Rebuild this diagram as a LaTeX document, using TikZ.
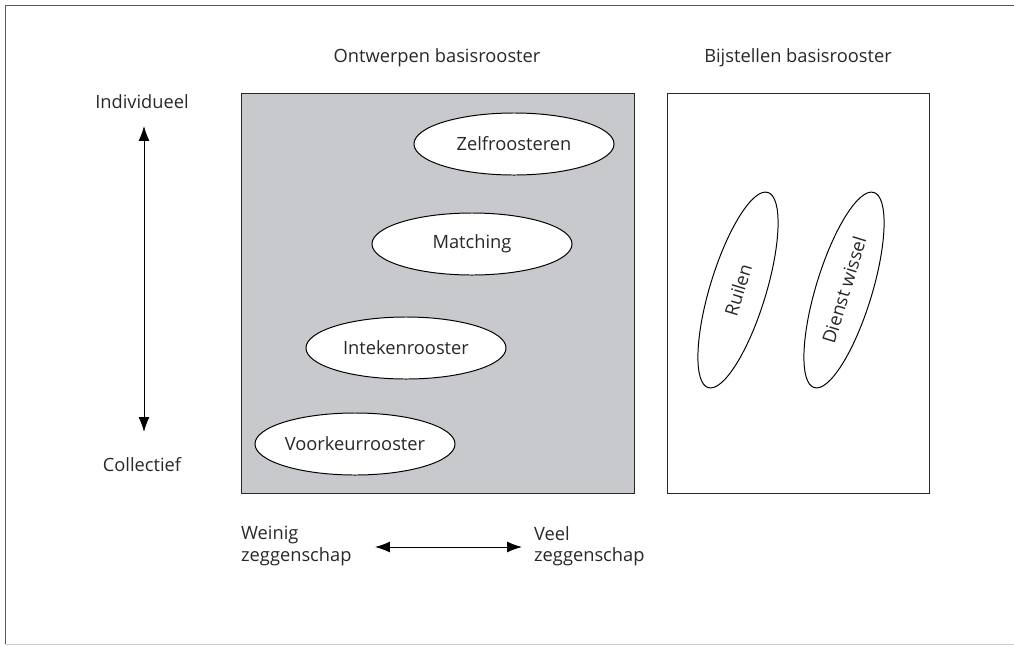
\documentclass[tikz,border=0pt]{standalone}
\usepackage{fontspec}
\setmainfont{Open Sans}
\usetikzlibrary{shapes.geometric,arrows.meta}
\definecolor{boxgray}{RGB}{200,201,204}
\definecolor{framegray}{RGB}{90,90,90}
\definecolor{inkt}{RGB}{40,40,40}

\begin{document}
\begin{tikzpicture}[x=0.025cm, y=-0.025cm, line width=0.7pt,
    font=\fontsize{13}{15}\selectfont, text=inkt]
    \tikzset{
        oval/.style={draw, ellipse, fill=white, minimum width=5cm, minimum height=1.55cm, inner sep=0pt},
        tiltoval/.style={draw, ellipse, fill=white, rotate=73, minimum width=5.1cm, minimum height=1.4cm, inner sep=0pt},
        dubbel/.style={{Latex[length=0.37cm,width=0.27cm]}-{Latex[length=0.37cm,width=0.27cm]}},
    }
    \useasboundingbox (0,0) rectangle (1014,646);

    % kader
    \draw[framegray] (1014,5) -- (5,5) -- (5,644);
    \draw[black!20] (5,644) -- (1014,644);

    % vlakken
    \draw[inkt, fill=boxgray] (241,93) rectangle (634,493);
    \draw[inkt] (667,93) rectangle (929,493);
    \node (ontwerp) at (437,58) {Ontwerpen basisrooster};
    \node (bijstel) at (798,58) {Bijstellen basisrooster};

    % verticale as
    \node (indiv) at (142,102) {Individueel};
    \node (coll) at (142,465) {Collectief};
    \coordinate (boven) at (144,126);
    \coordinate (onder) at (144,432);
    \draw[dubbel] (boven) -- (onder);

    % vormen
    \node[oval] (zelf) at (514,144) {Zelfroosteren};
    \node[oval] (match) at (472,244) {Matching};
    \node[oval] (intek) at (406,348) {Intekenrooster};
    \node[oval] (voork) at (355,444) {Voorkeurrooster};
    \node[tiltoval] (ruil) at (738,290) {Ruilen};
    \node[tiltoval] (dienst) at (844,290) {Dienst wissel};

    % horizontale as
    \node[align=left, anchor=west] (weinig) at (236,546) {Weinig\\zeggenschap};
    \node[align=left, anchor=west] (veel) at (529,546) {Veel\\zeggenschap};
    \coordinate (links) at (375,547);
    \coordinate (rechts) at (522,547);
    \draw[dubbel] (links) -- (rechts);
\end{tikzpicture}
\end{document}
